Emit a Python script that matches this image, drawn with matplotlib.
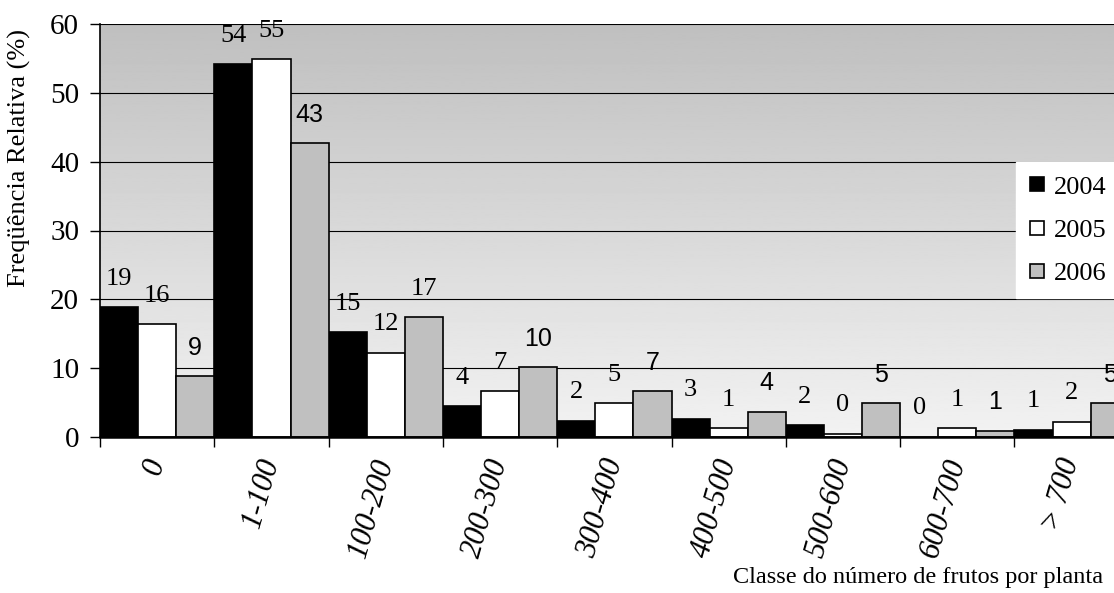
import numpy as np
import matplotlib.pyplot as plt
from matplotlib.lines import Line2D

# Relative frequency (%) of plants per fruit-count class, by year
classes = ['0', '1-100', '100-200', '200-300', '300-400',
           '400-500', '500-600', '600-700', '> 700']
years = ['2004', '2005', '2006']
freq_2004 = [18.8, 54.2, 15.2, 4.4, 2.3, 2.6, 1.7, 0.0, 1.0]
freq_2005 = [16.4, 54.9, 12.2, 6.6, 4.9, 1.2, 0.4, 1.2, 2.2]
freq_2006 = [8.8, 42.7, 17.4, 10.1, 6.6, 3.6, 4.9, 0.9, 4.9]

series = [freq_2004, freq_2005, freq_2006]
colors = ['black', 'white', '#c0c0c0']

SERIF = 'Liberation Serif'
SANS = 'Liberation Sans'

fig = plt.figure(figsize=(11.14, 5.93), dpi=100)
ax = fig.add_axes([100 / 1114, 1 - 436.7 / 593, 1028.7 / 1114, 412.4 / 593])

n = len(classes)
x = np.arange(n)
width = 1 / 3

ax.set_xlim(-0.5, n - 0.5)
ax.set_ylim(0, 60)

# vertical grey gradient behind the plot area, darker at the top
grad = np.linspace(0.75, 0.95, 256).reshape(-1, 1)
ax.imshow(grad, cmap='gray', vmin=0, vmax=1, aspect='auto', origin='upper',
          extent=[-0.5, n - 0.5, 0, 60], zorder=0)

ax.set_yticks(np.arange(0, 61, 10))
ax.yaxis.grid(True, color='black', linewidth=0.8)
ax.set_axisbelow(True)
for gl in ax.get_ygridlines():
    gl.set_zorder(1)

for j, (vals, col) in enumerate(zip(series, colors)):
    pos = x + (j - 1) * width
    ax.bar(pos, vals, width=width, color=col, edgecolor='black',
           linewidth=1.2, zorder=2)
    for i, v in enumerate(vals):
        # the 2006 labels use a sans face, except the 100-200 class
        sans = (j == 2 and i != 2)
        ax.annotate(f'{v:.0f}', (pos[i], v), xytext=(0, 20.5),
                    textcoords='offset points', ha='center', va='center',
                    fontsize=18 if sans else 19,
                    family=SANS if sans else SERIF, zorder=3)

# category boundaries carry the ticks, centres carry the labels
ax.set_xticks(np.arange(n + 1) - 0.5)
ax.set_xticklabels([])
ax.set_xticks(x, minor=True)
ax.set_xticklabels(classes, minor=True, fontsize=22, family=SERIF,
                   style='italic')
ax.tick_params(axis='x', which='major', direction='out', length=7,
               width=1, color='black')
ax.tick_params(axis='x', which='minor', length=0, pad=16)
plt.setp(ax.get_xticklabels(minor=True), rotation=74, ha='right',
         va='center', rotation_mode='anchor')

ax.tick_params(axis='y', direction='out', length=7, width=1, pad=8)
for lab in ax.get_yticklabels():
    lab.set_family(SERIF)
    lab.set_fontsize(21)

for side in ['top', 'right']:
    ax.spines[side].set_visible(False)
ax.spines['left'].set_linewidth(1.2)
ax.spines['bottom'].set_linewidth(1.8)

fig.text(19 / 1114, 1 - 158 / 593, 'Freqüência Relativa (%)', rotation=90,
         ha='center', va='center', fontsize=19, family=SERIF)
fig.text(918 / 1114, 1 - 578 / 593, 'Classe do número de frutos por planta',
         ha='center', va='center', fontsize=17.5, family=SERIF)

handles = [Line2D([], [], marker='s', linestyle='none', markersize=10.5,
                  markerfacecolor=c, markeredgecolor='black',
                  markeredgewidth=1.2) for c in colors]
leg = fig.legend(handles, years, loc='upper left',
                 bbox_to_anchor=(1016 / 1114, 1 - 162 / 593),
                 frameon=True, fancybox=False, framealpha=1,
                 prop={'family': SERIF, 'size': 19},
                 handlelength=0.6, handletextpad=0.35, labelspacing=0.75,
                 borderpad=0.5, borderaxespad=0)
leg.get_frame().set_facecolor('white')
leg.get_frame().set_edgecolor('white')

fig.savefig('out.png', dpi=100)
